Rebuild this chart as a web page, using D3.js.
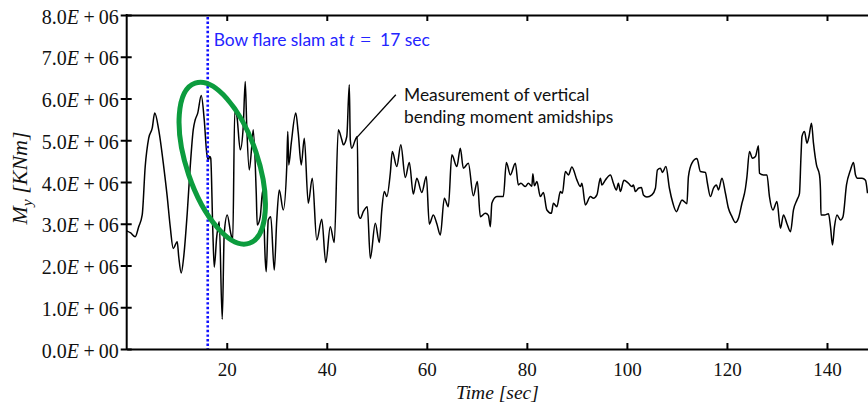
<!DOCTYPE html>
<html lang="en">
<head>
<meta charset="UTF-8">
<title>Vertical bending moment amidships</title>
<script src="https://d3js.org/d3.v7.min.js"></script>
<style>
  body { margin: 0; background: #fff; }
  svg { display: block; background: #fff; }
  .axis path, .axis line { stroke: #000; stroke-width: 2px; }
  .axis text { font-family: "Liberation Serif", serif; font-size: 19px; fill: #111; }
  .ylab text { font-size: 20px; }
  .note { font-family: Lato, "Open Sans", sans-serif; font-size: 17.4px; }
  .math { font-family: "Liberation Serif", serif; font-size: 19px; }
</style>
</head>
<body>
<div id="chart"></div>
<script>
// time in seconds
const time = [
  0.0, 0.8, 1.7, 2.4, 3.1, 3.7, 4.4, 5.1, 5.6, 6.4, 7.4, 8.1, 8.7, 9.3, 10.1, 10.4, 10.9, 11.4,
  12.1, 12.7, 13.3, 13.7, 14.2, 14.9, 15.5, 16.0, 16.3, 16.6, 16.8, 17.2, 17.5, 18.0, 18.5, 19.1,
  19.5, 20.1, 20.8, 21.2, 21.6, 22.0, 22.7, 23.3, 23.7, 24.0, 24.5, 25.0, 25.3, 25.9, 26.1, 26.7,
  27.2, 27.7, 27.9, 28.3, 28.8, 29.5, 30.0, 30.5, 31.3, 32.0, 32.2, 32.4, 32.9, 33.8, 34.3, 34.9,
  35.5, 36.3, 37.1, 38.0, 39.0, 39.8, 40.7, 41.5, 42.3, 43.0, 43.3, 44.0, 44.5, 44.7, 45.0, 45.7,
  46.1, 46.3, 46.7, 47.3, 48.1, 48.7, 49.7, 50.5, 51.0, 51.5, 52.0, 52.7, 53.1, 54.0, 54.8, 55.7,
  56.5, 57.3, 58.0, 59.0, 59.9, 60.5, 61.3, 62.0, 62.7, 63.5, 64.3, 65.0, 66.0, 66.7, 67.3, 68.3,
  69.3, 70.1, 70.7, 71.7, 72.3, 72.7, 73.0, 74.0, 75.3, 75.9, 76.7, 77.7, 78.3, 78.8, 79.7, 80.3,
  81.0, 81.2, 81.5, 82.0, 82.7, 83.3, 84.0, 84.9, 85.3, 86.0, 86.7, 87.1, 87.7, 88.3, 89.0, 90.0,
  90.7, 91.0, 91.7, 92.7, 93.3, 94.0, 94.7, 95.0, 95.7, 96.7, 97.3, 97.9, 98.3, 98.7, 99.4, 100.3,
  101.0, 101.3, 101.7, 102.3, 102.9, 103.3, 104.0, 105.0, 105.7, 106.1, 106.7, 107.1, 107.8, 108.5,
  109.2, 109.9, 110.5, 111.0, 112.0, 112.3, 113.0, 114.0, 114.7, 115.7, 116.1, 116.7, 117.3, 117.9,
  118.3, 119.0, 119.7, 120.3, 121.0, 121.7, 122.3, 123.0, 123.7, 124.0, 124.5, 125.1, 125.7, 126.3,
  126.5, 127.3, 128.0, 128.5, 129.2, 130.0, 130.7, 131.3, 132.0, 132.7, 133.3, 134.0, 134.5, 134.8,
  135.0, 135.5, 136.0, 136.4, 136.9, 137.3, 137.9, 138.5, 138.7, 138.8, 139.5, 140.3, 140.7, 141.1,
  141.5, 142.0, 142.7, 143.2, 143.9, 144.7, 145.3, 145.7, 146.1, 147.0, 147.7, 148.1
];
// vertical bending moment, x 1E+06 kNm
const moment = [
  2.83, 2.78, 2.69, 2.93, 3.21, 4.37, 5.05, 5.29, 5.65, 5.25, 4.37, 3.65, 2.93, 2.41, 2.57, 2.21, 1.82, 2.21,
  3.25, 4.37, 5.25, 5.49, 5.65, 6.07, 5.49, 4.69, 4.53, 4.61, 4.57, 2.90, 1.96, 2.69, 3.05, 0.71,
  2.77, 3.21, 2.77, 2.61, 5.69, 5.60, 4.77, 5.33, 6.41, 5.33, 4.29, 4.85, 5.25, 3.73, 2.97, 3.17,
  3.81, 2.13, 1.85, 3.09, 3.17, 1.89, 3.09, 3.81, 3.33, 4.37, 5.21, 4.41, 4.93, 5.65, 5.17, 4.41,
  5.05, 3.49, 4.09, 2.61, 3.11, 2.07, 2.93, 2.55, 5.25, 5.01, 4.89, 5.09, 6.33, 5.01, 4.81, 5.01,
  5.09, 3.25, 3.13, 3.29, 3.41, 2.17, 3.01, 2.55, 3.33, 3.77, 3.65, 4.21, 4.73, 4.37, 4.89, 4.11,
  4.47, 3.71, 4.09, 3.75, 4.13, 2.99, 3.21, 3.00, 2.73, 3.61, 3.41, 4.65, 4.37, 4.81, 4.33, 4.45,
  3.67, 4.01, 3.17, 3.25, 3.20, 2.93, 3.49, 3.65, 3.65, 4.47, 4.17, 4.45, 3.93, 3.97, 3.89, 3.97,
  3.90, 4.20, 3.91, 4.01, 3.65, 3.75, 3.33, 3.25, 3.49, 3.41, 3.77, 3.73, 4.25, 4.17, 4.36, 4.05,
  3.89, 3.97, 3.45, 3.65, 3.61, 3.69, 4.09, 3.93, 4.05, 4.17, 3.97, 3.81, 3.97, 3.77, 4.04, 3.97,
  3.89, 3.93, 3.77, 3.85, 3.87, 3.69, 3.64, 3.69, 3.85, 4.29, 4.33, 4.23, 4.37, 3.85,
  3.49, 3.29, 3.45, 3.57, 3.48, 4.13, 4.45, 4.56, 4.25, 4.23, 3.97, 3.65, 3.85, 3.93,
  3.81, 4.09, 3.73, 3.37, 3.17, 3.03, 3.13, 3.49, 3.85, 4.13, 4.73, 4.57, 4.61, 4.87,
  4.21, 4.17, 4.17, 3.65, 3.33, 3.53, 2.89, 3.21, 3.00, 2.81, 3.33, 3.57, 3.73, 4.61,
  5.09, 5.21, 4.93, 5.09, 5.41, 4.93, 4.41, 4.17, 3.81, 3.21, 3.21, 3.24, 2.93, 2.49,
  2.93, 3.21, 3.09, 3.17, 3.93, 4.29, 4.47, 4.17, 4.09, 4.09, 4.04, 3.73
];
const xTicks = [20, 40, 60, 80, 100, 120, 140];
const yTicks = [0, 1, 2, 3, 4, 5, 6, 7, 8];
const slamTime = 17;        // as written in the label
const slamLineTime = 16.2;  // where the dotted line sits in the figure
const ringCentre = [19.1, 4.45];
const noteFrom = [53.8, 6.09];
const noteTo = [45.9, 5.05];

const w = 868, h = 404;
const pLeft = 126.7, pTop = 15, pBottom = 349;

const svg = d3.select("#chart").append("svg")
  .attr("width", w).attr("height", h);

const x = d3.scaleLinear().domain([0, 148.2]).range([pLeft, w]);
const y = d3.scaleLinear().domain([0, 8]).range([pBottom, pTop]);

svg.append("clipPath").attr("id", "plot")
  .append("rect").attr("x", pLeft).attr("y", pTop)
  .attr("width", w - pLeft).attr("height", pBottom - pTop);

// series
const pts = time.map((t, i) => [t, moment[i]]);
const line = d3.line()
  .x(d => x(d[0])).y(d => y(d[1]))
  .curve(d3.curveMonotoneX);

svg.append("path")
  .datum(pts)
  .attr("clip-path", "url(#plot)")
  .attr("fill", "none")
  .attr("stroke", "#000")
  .attr("stroke-width", 1.5)
  .attr("stroke-linejoin", "round")
  .attr("d", line);

// slam marker
svg.append("line")
  .attr("x1", x(slamLineTime)).attr("x2", x(slamLineTime))
  .attr("y1", pTop + 2).attr("y2", pBottom)
  .attr("stroke", "#1010ff")
  .attr("stroke-width", 2.6)
  .attr("stroke-dasharray", "2.4,2.2");

// green ring
svg.append("ellipse")
  .attr("cx", 0).attr("cy", 0)
  .attr("rx", 35.5).attr("ry", 84.5)
  .attr("transform", `translate(${x(ringCentre[0])},${y(ringCentre[1])}) rotate(-18.7)`)
  .attr("fill", "none")
  .attr("stroke", "#0c9c3e")
  .attr("stroke-width", 5);

// axes
const xAxis = svg.append("g").attr("class", "axis")
  .attr("transform", `translate(0,${pBottom})`)
  .call(d3.axisBottom(x).tickValues(xTicks).tickSizeInner(-6).tickSizeOuter(0));
xAxis.selectAll(".tick text").attr("y", 27).attr("dy", 0);

svg.append("g").attr("class", "axis")
  .attr("transform", `translate(0,${pTop})`)
  .call(d3.axisTop(x).tickValues(xTicks).tickSizeInner(-6).tickSizeOuter(0).tickFormat(""));

const yAxis = svg.append("g").attr("class", "axis ylab")
  .attr("transform", `translate(${pLeft},0)`)
  .call(d3.axisLeft(y).tickValues(yTicks).tickSizeInner(6).tickSizeOuter(0).tickPadding(2));
yAxis.select(".domain").remove();
yAxis.append("line").attr("x1", 0).attr("x2", 0)
  .attr("y1", pTop - 1).attr("y2", pBottom + 1)
  .attr("stroke", "#000").attr("stroke-width", 2);
yAxis.selectAll(".tick line").attr("x1", 5);
yAxis.selectAll(".tick text")
  .attr("dy", "0.4em")
  .text(null)
  .each(function (d) {
    const t = d3.select(this);
    t.append("tspan").text(d.toFixed(1));
    t.append("tspan").attr("font-style", "italic").text("E");
    t.append("tspan").attr("dx", 4.5).text("+");
    t.append("tspan").attr("dx", 4).text(d === 0 ? "00" : "06");
  });

// axis titles
svg.append("text")
  .attr("x", (pLeft + w) / 2).attr("y", 399)
  .attr("text-anchor", "middle")
  .attr("font-family", "Liberation Serif, serif")
  .attr("font-size", 19.5)
  .attr("font-style", "italic")
  .attr("fill", "#111")
  .text("Time [sec]");

const yt = svg.append("text")
  .attr("transform", `translate(27,178) rotate(-90)`)
  .attr("text-anchor", "middle")
  .attr("font-family", "Liberation Serif, serif")
  .attr("font-size", 22)
  .attr("font-style", "italic")
  .attr("fill", "#111");
yt.append("tspan").text("M");
yt.append("tspan").attr("font-size", 15.5).attr("dy", 5).text("y");
yt.append("tspan").attr("dy", -5).text(" [KNm]");

// slam label
const sl = svg.append("text").attr("class", "note")
  .attr("x", x(slamLineTime) + 6).attr("y", 46)
  .attr("font-size", 17.6)
  .attr("fill", "#2424ff");
sl.append("tspan").text("Bow flare slam at ");
sl.append("tspan").attr("class", "math").attr("font-style", "italic").text("t");
sl.append("tspan").attr("class", "math").attr("dx", 6).text("=");
sl.append("tspan").attr("dx", 9).text(`${slamTime} sec`);

// measurement note
svg.append("line")
  .attr("x1", x(noteFrom[0])).attr("y1", y(noteFrom[1]))
  .attr("x2", x(noteTo[0])).attr("y2", y(noteTo[1]))
  .attr("stroke", "#000").attr("stroke-width", 1.3);

const nt = svg.append("text").attr("class", "note").attr("fill", "#111");
nt.append("tspan").attr("x", 404).attr("y", 101).text("Measurement of vertical");
nt.append("tspan").attr("x", 404).attr("y", 123).text("bending moment amidships");
</script>
</body>
</html>
